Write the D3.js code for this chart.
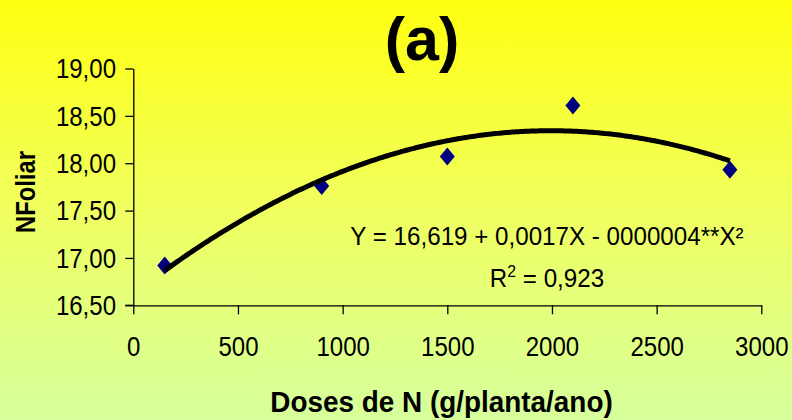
<!DOCTYPE html>
<html><head><meta charset="utf-8">
<script src="https://cdn.jsdelivr.net/npm/d3@7"></script>
<style>
html,body{margin:0;padding:0;}
svg{display:block;}
text{font-family:"Liberation Sans",Arial,sans-serif;fill:#000;}
</style></head>
<body>
<svg id="chart" width="792" height="420"></svg>
<script>
const doses = [150, 900, 1500, 2100, 2850];
const nfoliar = [16.92, 17.76, 18.07, 18.61, 17.93];
const xTicks = [0, 500, 1000, 1500, 2000, 2500, 3000];
const yTicks = [16.5, 17.0, 17.5, 18.0, 18.5, 19.0];
const titleText = "(a)";
const xTitle = "Doses de N (g/planta/ano)";
const yTitle = "NFoliar";
const eqText = "Y = 16,619 + 0,0017X - 0000004**X²";
const r2Value = "0,923";

const svg = d3.select("#chart");
const W = 792, H = 420;

const defs = svg.append("defs");
const grad = defs.append("linearGradient").attr("id","bg").attr("x1",0).attr("y1",0).attr("x2",0).attr("y2",1);
grad.append("stop").attr("offset","0%").attr("stop-color","#FFFF10");
grad.append("stop").attr("offset","50%").attr("stop-color","#F0FF60");
grad.append("stop").attr("offset","100%").attr("stop-color","#D6FF9C");
svg.append("rect").attr("width",W).attr("height",H).attr("fill","url(#bg)");

const x = d3.scaleLinear().domain([0,3000]).range([133.3,761.3]);
const y = d3.scaleLinear().domain([16.5,19.0]).range([305.3,68.5]);
const fmtY = v => d3.format(".2f")(v).replace(".", ",");
const SX = 0.89;

const xAxis = svg.append("g").attr("transform",`translate(0,${y(16.5)})`)
  .call(d3.axisBottom(x).tickValues(xTicks).tickSize(9).tickPadding(23).tickFormat(d3.format("d")).tickSizeOuter(0));
const yAxis = svg.append("g").attr("transform",`translate(${x(0)},0)`)
  .call(d3.axisLeft(y).tickValues(yTicks).tickSize(8).tickPadding(10).tickFormat(fmtY).tickSizeOuter(0));
[xAxis,yAxis].forEach(g=>{
  g.selectAll(".domain").attr("stroke","#000").attr("stroke-width",1.3);
  g.selectAll(".tick line").attr("stroke","#000").attr("stroke-width",1.3);
  g.selectAll(".tick text").style("font-size","27px")
    .attr("font-family","Liberation Sans, Arial, sans-serif").attr("fill","#000")
    .attr("transform",`scale(${SX},1)`);
});
svg.append("line").attr("x1",x(0)-8).attr("x2",x(0)).attr("y1",y(16.5)).attr("y2",y(16.5)).attr("stroke","#000").attr("stroke-width",1.3);
yAxis.selectAll(".tick text").attr("x",-17.3/SX).attr("dy","0.34em");
xAxis.selectAll(".tick text").attr("dy","0.71em");

const diamond = "M0,-9L7.5,0L0,9L-7.5,0Z";
svg.append("g").selectAll("path").data(doses).join("path")
  .attr("d",diamond)
  .attr("transform",(d,i)=>`translate(${x(d)},${y(nfoliar[i])})`)
  .attr("fill","#000080");

function polyfit2(xs, ys){
  let n=xs.length, s=[0,0,0,0,0], t=[0,0,0];
  for(let i=0;i<n;i++){
    const xv=xs[i];
    for(let k=0;k<5;k++) s[k]+=Math.pow(xv,k);
    for(let k=0;k<3;k++) t[k]+=ys[i]*Math.pow(xv,k);
  }
  const A=[[s[0],s[1],s[2],t[0]],[s[1],s[2],s[3],t[1]],[s[2],s[3],s[4],t[2]]];
  for(let i=0;i<3;i++){
    let p=i; for(let r=i+1;r<3;r++) if(Math.abs(A[r][i])>Math.abs(A[p][i])) p=r;
    [A[i],A[p]]=[A[p],A[i]];
    for(let r=0;r<3;r++){ if(r===i) continue; const f=A[r][i]/A[i][i]; for(let c=i;c<4;c++) A[r][c]-=f*A[i][c]; }
  }
  return [A[0][3]/A[0][0],A[1][3]/A[1][1],A[2][3]/A[2][2]];
}
const [c0,c1,c2] = polyfit2(doses, nfoliar);
const xs = d3.range(doses[0], doses[doses.length-1]+1, 10);
svg.append("path")
  .datum(xs)
  .attr("d", d3.line().x(d=>x(d)).y(d=>y(c0+c1*d+c2*d*d)))
  .attr("fill","none").attr("stroke","#000").attr("stroke-width",5).attr("stroke-linecap","butt");

svg.append("text").attr("x",422).attr("y",60).attr("text-anchor","middle")
  .style("font-size","61px").style("font-weight","bold").text(titleText);

svg.append("g").attr("transform","translate(441.5,412) scale(0.93,1)")
  .append("text").attr("text-anchor","middle")
  .style("font-size","30px").style("font-weight","bold").text(xTitle);
svg.append("g").attr("transform","translate(35,192) rotate(-90) scale(0.88,1)")
  .append("text").attr("text-anchor","middle")
  .style("font-size","27px").style("font-weight","bold").text(yTitle);

svg.append("g").attr("transform","translate(547,245) scale(0.93,1)")
  .append("text").attr("text-anchor","middle")
  .style("font-size","26px").text(eqText);
const r2 = svg.append("g").attr("transform","translate(547,286.5) scale(0.93,1)")
  .append("text").attr("text-anchor","middle").style("font-size","26px");
r2.append("tspan").text("R");
r2.append("tspan").attr("dy",-10).style("font-size","17px").text("2");
r2.append("tspan").attr("dy",10).text(" = " + r2Value);
</script>
</body></html>
